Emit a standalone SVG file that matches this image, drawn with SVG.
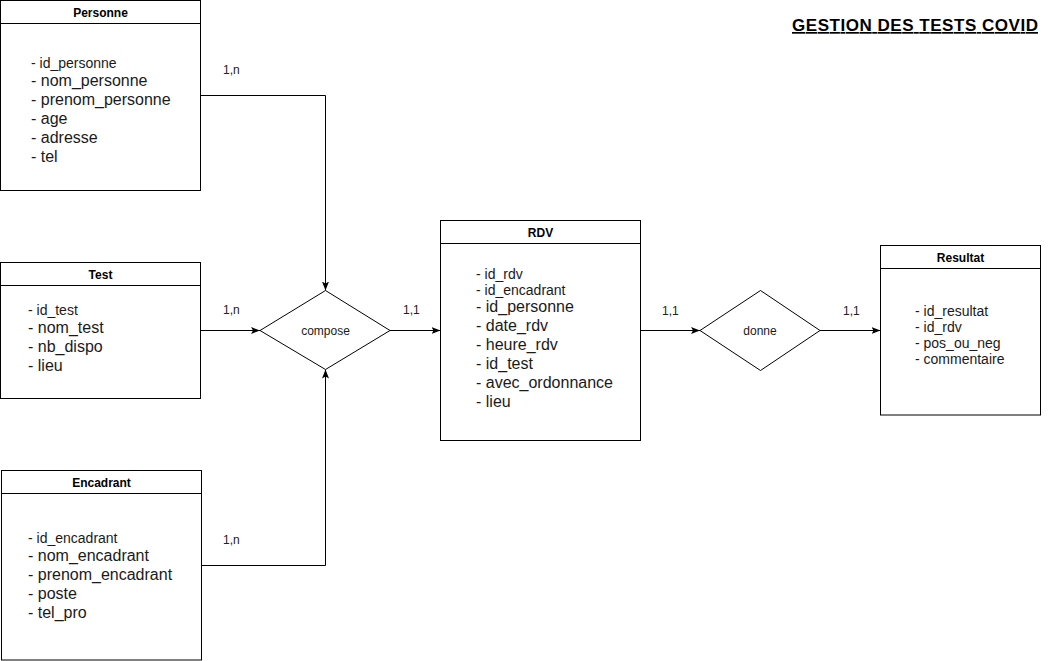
<svg xmlns="http://www.w3.org/2000/svg" width="1051" height="661" viewBox="0 0 1051 661">
<defs>
<style>
.box{fill:#fff;stroke:#000;stroke-width:1}
.hdr{stroke:#000;stroke-width:1}
.ttl{font-family:"Liberation Sans",Arial,sans-serif;font-size:12px;font-weight:bold;text-anchor:middle;fill:#000}
.s{font-family:"Liberation Sans",Arial,sans-serif;font-size:14px;fill:#1a1a1a}
.l{font-family:"Liberation Sans",Arial,sans-serif;font-size:16px;fill:#1a1a1a}
.rel{font-family:"Liberation Sans",Arial,sans-serif;font-size:12px;text-anchor:middle;fill:#1a1a1a}
.card{font-family:"Liberation Sans",Arial,sans-serif;font-size:12px;fill:#222}
.edge{fill:none;stroke:#000;stroke-width:1}
</style>
<marker id="arr" markerUnits="userSpaceOnUse" markerWidth="10" markerHeight="8" refX="9" refY="3.5" orient="auto">
<path d="M0,0 L9,3.5 L0,7 L2,3.5 z" fill="#000"/>
</marker>
</defs>
<rect width="1051" height="661" fill="#fff"/>

<text x="792" y="31" font-family="'Liberation Sans',Arial,sans-serif" font-size="17" font-weight="bold" text-decoration="underline" textLength="246" lengthAdjust="spacing" fill="#000">GESTION DES TESTS COVID</text>

<g id="connectors">
<path class="edge" d="M200.5,95.5 H325.5 V290.5" marker-end="url(#arr)"/>
<path class="edge" d="M200.5,330.5 H260" marker-end="url(#arr)"/>
<path class="edge" d="M201.5,565.5 H325.5 V369.5" marker-end="url(#arr)"/>
<path class="edge" d="M390,330.5 H440.5" marker-end="url(#arr)"/>
<path class="edge" d="M640.5,330.5 H700" marker-end="url(#arr)"/>
<path class="edge" d="M820,330.5 H880.5" marker-end="url(#arr)"/>
<text class="card" x="223" y="74">1,n</text>
<text class="card" x="223" y="314">1,n</text>
<text class="card" x="223" y="544">1,n</text>
<text class="card" x="403" y="314">1,1</text>
<text class="card" x="662" y="315">1,1</text>
<text class="card" x="843" y="315">1,1</text>
</g>

<g id="personne">
<rect class="box" x="0.5" y="0.5" width="200" height="190"/>
<line class="hdr" x1="0.5" y1="23.5" x2="200.5" y2="23.5"/>
<text class="ttl" x="100.5" y="16.5">Personne</text>
<text class="s" x="31" y="68">- id_personne</text>
<text class="l" x="31" y="86">- nom_personne</text>
<text class="l" x="31" y="105">- prenom_personne</text>
<text class="l" x="31" y="124">- age</text>
<text class="l" x="31" y="143">- adresse</text>
<text class="l" x="31" y="162">- tel</text>
</g>

<g id="test">
<rect class="box" x="0.5" y="262.5" width="200" height="136"/>
<line class="hdr" x1="0.5" y1="285.5" x2="200.5" y2="285.5"/>
<text class="ttl" x="100.5" y="278.5">Test</text>
<text class="s" x="28" y="315">- id_test</text>
<text class="l" x="28" y="333">- nom_test</text>
<text class="l" x="28" y="352">- nb_dispo</text>
<text class="l" x="28" y="371">- lieu</text>
</g>

<g id="encadrant">
<rect class="box" x="1.5" y="470.5" width="200" height="189.5"/>
<line class="hdr" x1="1.5" y1="493.5" x2="201.5" y2="493.5"/>
<text class="ttl" x="101.5" y="486.5">Encadrant</text>
<text class="s" x="28" y="543">- id_encadrant</text>
<text class="l" x="28" y="561">- nom_encadrant</text>
<text class="l" x="28" y="580">- prenom_encadrant</text>
<text class="l" x="28" y="599">- poste</text>
<text class="l" x="28" y="618">- tel_pro</text>
</g>

<g id="compose">
<polygon class="box" points="260,330.5 325.5,290.5 390,330.5 325.5,369.5"/>
<text class="rel" x="325.5" y="334.5">compose</text>
</g>

<g id="rdv">
<rect class="box" x="440.5" y="220.5" width="200" height="220"/>
<line class="hdr" x1="440.5" y1="243.5" x2="640.5" y2="243.5"/>
<text class="ttl" x="540.5" y="236.5">RDV</text>
<text class="s" x="476" y="279">- id_rdv</text>
<text class="s" x="476" y="295">- id_encadrant</text>
<text class="l" x="476" y="312">- id_personne</text>
<text class="l" x="476" y="331">- date_rdv</text>
<text class="l" x="476" y="350">- heure_rdv</text>
<text class="l" x="476" y="369">- id_test</text>
<text class="l" x="476" y="388">- avec_ordonnance</text>
<text class="l" x="476" y="407">- lieu</text>
</g>

<g id="donne">
<polygon class="box" points="700,330.5 760.5,290.5 820,330.5 760.5,370.5"/>
<text class="rel" x="760" y="335">donne</text>
</g>

<g id="resultat">
<rect class="box" x="880.5" y="245.5" width="160" height="169.5"/>
<line class="hdr" x1="880.5" y1="268.5" x2="1040.5" y2="268.5"/>
<text class="ttl" x="960.5" y="261.5">Resultat</text>
<text class="s" x="915" y="316">- id_resultat</text>
<text class="s" x="915" y="332">- id_rdv</text>
<text class="s" x="915" y="348">- pos_ou_neg</text>
<text class="s" x="915" y="364">- commentaire</text>
</g>
</svg>
